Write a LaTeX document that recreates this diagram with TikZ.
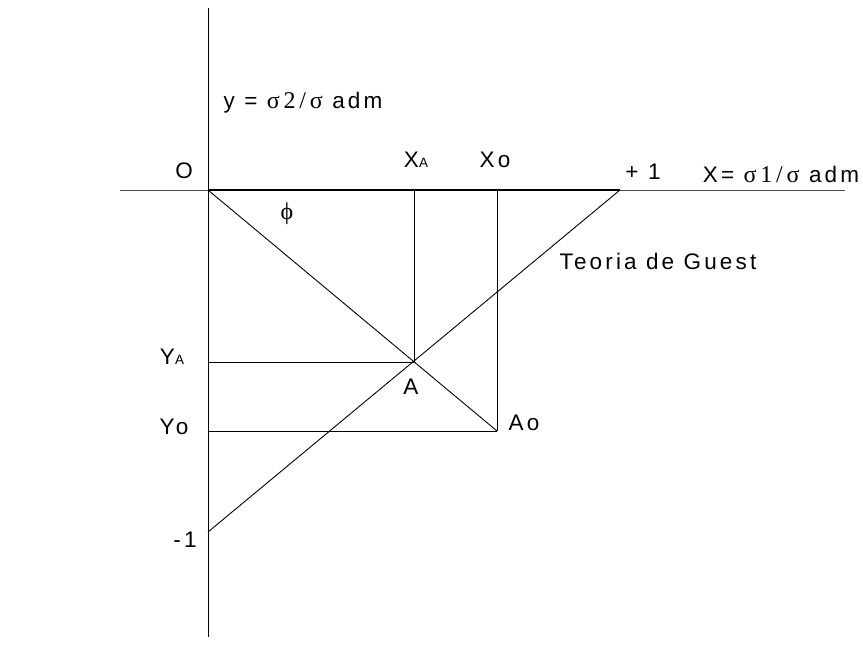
\documentclass[tikz,border=0pt]{standalone}
\usepackage{fontspec}
\setmainfont[LetterSpace=14]{Liberation Sans}
\newfontfamily\symf[LetterSpace=16]{Liberation Serif}
\newcommand{\sg}[1]{{\symf\fontsize{24}{26}\selectfont #1}}
\newcommand{\sbA}{{\fontsize{13.5}{14}\selectfont A}}
\begin{document}
\begin{tikzpicture}[x=1pt,y=-1pt,
  lbl/.style={inner sep=0pt,font=\fontsize{22.5}{26}\selectfont},
  ln/.style={line width=0.9pt,black}]
\useasboundingbox (0,0) rectangle (863,666);
\coordinate (O) at (208,190);
\coordinate (vtop) at (208,8);
\coordinate (vbot) at (208,637);
\coordinate (hl) at (120,190);
\coordinate (hr) at (845,190);
\coordinate (A) at (414,362);
\coordinate (Ao) at (497,431);
\coordinate (XA) at (414,190);
\coordinate (Xo) at (497,190);
\coordinate (YA) at (208,362);
\coordinate (Yo) at (208,431);
\coordinate (P1) at (620,190);
\coordinate (M1) at (208,532);
\draw[ln] (vtop) -- (vbot);
\draw[line width=0.7pt,black!70] (hl) -- (hr);
\draw[line width=1.4pt] (O) -- (P1);
\draw[ln] (O) -- (Ao);
\draw[ln] (XA) -- (A);
\draw[ln] (Xo) -- (Ao);
\draw[ln] (YA) -- (A);
\draw[ln] (Yo) -- (Ao);
\draw[ln] (M1) -- (P1);
\node[lbl] (lO) at (184,171) {O};
\node[lbl] (lXA) at (416,160) {X\sbA};
\node[lbl] (lXo) at (495,160) {Xo};
\node[lbl] (lp1) at (643,172) {+ 1};
\node[lbl] (lX) at (781,174) {X= \sg{σ1/σ} adm};
\node[lbl] (ly) at (303,103) {y = \sg{σ2/σ} adm};
\node[lbl] (lphi) at (287,214) {\sg{ϕ}};
\node[lbl] (lG) at (658,261) {Teoria de Guest};
\node[lbl] (lYA) at (172,357) {Y\sbA};
\node[lbl] (lA) at (411,387) {A};
\node[lbl] (lYo) at (174,427) {Yo};
\node[lbl] (lAo) at (524,423) {Ao};
\node[lbl] (lm1) at (185,540) {-1};
\end{tikzpicture}
\end{document}
